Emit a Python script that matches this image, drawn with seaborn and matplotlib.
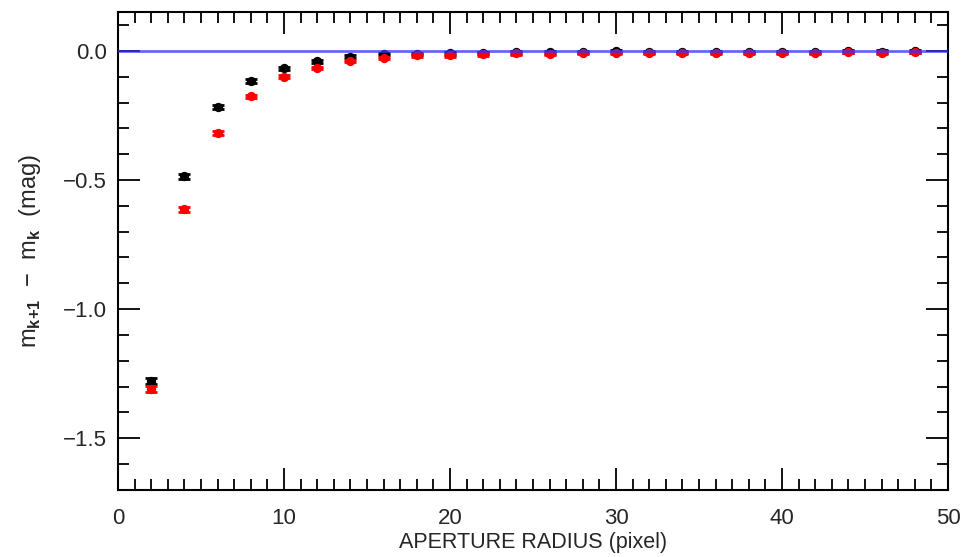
import numpy as np
import pandas as pd
import matplotlib
matplotlib.use('Agg')
import matplotlib.pyplot as plt
from matplotlib.ticker import MultipleLocator
import seaborn as sns

radius = [2, 4, 6, 8, 10, 12, 14, 16, 18, 20, 22, 24, 26, 28, 30, 32, 34, 36, 38, 40, 42, 44, 46, 48]
dm_black = [-1.278, -0.486, -0.217, -0.116, -0.068, -0.040, -0.023, -0.013, -0.012, -0.010,
            -0.008, -0.006, -0.006, -0.005, -0.002, -0.004, -0.004, -0.004, -0.004, -0.005,
            -0.004, -0.002, -0.003, -0.002]
err_black = [0.012, 0.010, 0.008, 0.007, 0.006, 0.006, 0.006, 0.005, 0.005, 0.005,
             0.005, 0.005, 0.005, 0.005, 0.005, 0.005, 0.005, 0.005, 0.005, 0.005,
             0.005, 0.005, 0.005, 0.005]
dm_red = [-1.309, -0.614, -0.318, -0.176, -0.100, -0.066, -0.040, -0.028, -0.018, -0.018,
          -0.014, -0.010, -0.011, -0.009, -0.009, -0.008, -0.008, -0.008, -0.009, -0.009,
          -0.008, -0.005, -0.007, -0.005]
err_red = [0.010, 0.008, 0.007, 0.006, 0.006, 0.005, 0.005, 0.005, 0.005, 0.005,
           0.005, 0.005, 0.005, 0.005, 0.005, 0.005, 0.005, 0.005, 0.005, 0.005,
           0.005, 0.005, 0.005, 0.005]

df = pd.DataFrame({'r': radius, 'black': dm_black, 'red': dm_red})

sns.set_style('ticks')
plt.rcParams['font.family'] = ['Liberation Sans', 'DejaVu Sans']
plt.rcParams['mathtext.fontset'] = 'custom'
plt.rcParams['mathtext.rm'] = 'Liberation Sans'
plt.rcParams['mathtext.bf'] = 'Liberation Sans:bold'

fig = plt.figure(figsize=(9.64, 5.57), dpi=100)
ax = fig.add_axes([0.1224, 0.1203, 0.861, 0.858])

# black series
ax.errorbar(radius, dm_black, yerr=err_black, fmt='none', ecolor='black',
            elinewidth=2, capsize=4, capthick=2, zorder=2)
sns.scatterplot(data=df, x='r', y='black', color='black', s=45, linewidth=0, ax=ax, zorder=3)

# red series
ax.errorbar(radius, dm_red, yerr=err_red, fmt='none', ecolor='red',
            elinewidth=2, capsize=4, capthick=2, zorder=4)
sns.scatterplot(data=df, x='r', y='red', color='red', s=45, linewidth=0, ax=ax, zorder=5)

ax.axhline(0.0, color='#3333ff', lw=2, alpha=0.75, zorder=6)

ax.set_xlim(0, 50)
ax.set_ylim(-1.7, 0.15)
ax.xaxis.set_major_locator(MultipleLocator(10))
ax.xaxis.set_minor_locator(MultipleLocator(1))
ax.yaxis.set_major_locator(MultipleLocator(0.5))
ax.yaxis.set_minor_locator(MultipleLocator(0.1))
ax.yaxis.set_major_formatter(plt.FuncFormatter(lambda v, p: f'{v:.1f}'.replace('-', '\u2212')))

ax.tick_params(which='both', direction='in', top=True, right=True, color='black', width=1.3)
ax.tick_params(which='major', length=16, labelsize=16)
ax.tick_params(which='minor', length=8)
ax.tick_params(axis='x', which='major', pad=13)
ax.tick_params(axis='y', which='major', pad=8)
for s in ax.spines.values():
    s.set_linewidth(1.5)
    s.set_color('black')

ax.set_xlabel('APERTURE RADIUS (pixel)', fontsize=15.5, labelpad=2)
ax.set_ylabel('m$_{\\mathbf{k{+}1}}$  \u2212  m$_{\\mathbf{k}}$  (mag)', fontsize=17)
ax.yaxis.set_label_coords(-0.09, 0.5)

fig.savefig('out.png', dpi=100)
